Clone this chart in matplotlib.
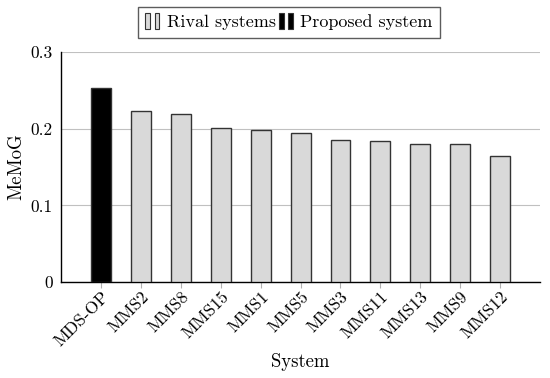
import numpy as np
import matplotlib.pyplot as plt
from matplotlib.patches import Rectangle
from matplotlib.legend_handler import HandlerBase

# data
systems = ["MDS-OP", "MMS2", "MMS8", "MMS15", "MMS1", "MMS5", "MMS3",
           "MMS11", "MMS13", "MMS9", "MMS12"]
memog = [0.253, 0.223, 0.219, 0.201, 0.199, 0.194, 0.185, 0.184, 0.180, 0.180, 0.165]
proposed = ["MDS-OP"]

plt.rcParams['font.family'] = 'cmr10'
plt.rcParams['mathtext.fontset'] = 'cm'
plt.rcParams['axes.formatter.use_mathtext'] = True
plt.rcParams['font.size'] = 12.5

gray_fill = '#d9d9d9'


class TwoBarHandler(HandlerBase):
    def create_artists(self, legend, orig_handle, xdescent, ydescent,
                       width, height, fontsize, trans):
        fc = orig_handle.get_facecolor()
        bw = width * 0.32
        bh = height * 1.3
        arts = []
        for x0 in (width * 0.02, width * 0.62):
            r = Rectangle((x0 - xdescent, -ydescent - 0.12 * height), bw, bh,
                          facecolor=fc, edgecolor='#333333', lw=0.8,
                          transform=trans)
            arts.append(r)
        return arts


fig = plt.figure(figsize=(5.5, 3.78), dpi=100)
ax = fig.add_axes([0.111, 0.254, 0.871, 0.608])

x = np.arange(len(systems))
colors = ['black' if s in proposed else gray_fill for s in systems]
ax.bar(x, memog, width=0.5, color=colors, edgecolor='#333333', linewidth=1.0, zorder=3)

ax.set_xlim(-1, len(systems))
ax.set_ylim(0, 0.3)
ax.set_yticks([0, 0.1, 0.2, 0.3])
ax.set_yticklabels(['0', '0.1', '0.2', '0.3'])
ax.set_xticks(x)
ax.set_xticklabels(systems, rotation=45, ha='right', rotation_mode='anchor')
ax.tick_params(axis='x', length=4, color='#b0b0b0', direction='out', pad=1)
ax.tick_params(axis='y', length=0, pad=6)
ax.yaxis.grid(True, color='#c0c0c0', lw=0.8, zorder=0)
ax.set_axisbelow(True)
for s in ['top', 'right']:
    ax.spines[s].set_visible(False)
ax.spines['left'].set_linewidth(1.0)
ax.spines['bottom'].set_linewidth(1.0)

ax.set_ylabel('MeMoG', fontsize=13.5, labelpad=4)
ax.set_xlabel('System', fontsize=13.5, labelpad=3)

h1 = Rectangle((0, 0), 1, 1, facecolor=gray_fill)
h2 = Rectangle((0, 0), 1, 1, facecolor='black')
leg = fig.legend([h1, h2], ['Rival systems', 'Proposed system'], ncol=2,
                 loc='upper center', bbox_to_anchor=(0.525, 0.99),
                 handler_map={Rectangle: TwoBarHandler()},
                 frameon=True, fancybox=False, edgecolor='#333333',
                 fontsize=13,
                 handlelength=0.85, handletextpad=0.35, columnspacing=0.15,
                 borderpad=0.4, borderaxespad=0.2)
leg.get_frame().set_linewidth(1.0)

fig.savefig('out.png', dpi=100)
